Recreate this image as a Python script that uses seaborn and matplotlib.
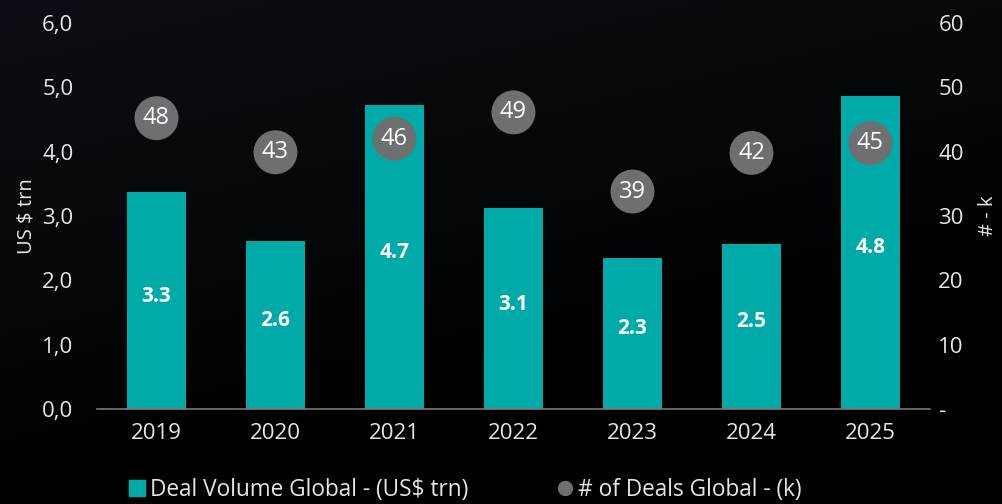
import numpy as np
import pandas as pd
import matplotlib.pyplot as plt
import seaborn as sns
from matplotlib.lines import Line2D

# values
years = ["2019", "2020", "2021", "2022", "2023", "2024", "2025"]
deal_volume = [3.37, 2.61, 4.72, 3.12, 2.35, 2.57, 4.87]          # bar heights, US$ trn
volume_labels = ["3.3", "2.6", "4.7", "3.1", "2.3", "2.5", "4.8"]
deal_count_pos = [45.2, 39.9, 42.0, 46.1, 33.8, 39.8, 41.3]        # circle positions on right axis
deal_count_labels = ["48", "43", "46", "49", "39", "42", "45"]

left_ticks = [0, 1, 2, 3, 4, 5, 6]
left_ticklabels = ["0,0", "1,0", "2,0", "3,0", "4,0", "5,0", "6,0"]
right_ticks = [0, 10, 20, 30, 40, 50, 60]
right_ticklabels = ["-", "10", "20", "30", "40", "50", "60"]

TEAL = "#00aaa9"
GREY = "#6d6f71"
TXT = "#e6e6e6"

sns.set_style("dark")
plt.rcParams["font.family"] = ["Open Sans", "DejaVu Sans"]

df = pd.DataFrame({"year": years, "volume": deal_volume})

fig = plt.figure(figsize=(10.02, 5.04), dpi=100)

# dark gradient background
bg = fig.add_axes([0, 0, 1, 1], zorder=-10)
yy, xx = np.mgrid[0:1:200j, 0:1:400j]
t = np.clip(0.75 * yy + 0.35 * (1 - xx) - 0.35, 0, 1)
tint = np.array([0.06, 0.08, 0.11])
img = t[..., None] * tint
bg.imshow(img, aspect="auto", extent=[0, 1, 0, 1], origin="lower")
bg.axis("off")

ax = fig.add_axes([0.0968, 0.1885, 0.8313, 0.766])
ax.set_facecolor("none")
sns.barplot(data=df, x="year", y="volume", color=TEAL, saturation=1,
            width=0.5, edgecolor=TEAL, linewidth=0, ax=ax, zorder=2)

for i, (v, lab) in enumerate(zip(deal_volume, volume_labels)):
    ax.text(i, v / 2 + 0.07, lab, ha="center", va="center", color="white",
            fontsize=15, fontweight="bold", zorder=5)

ax.set_ylim(0, 6)
ax.set_xlim(-0.5, len(years) - 0.5)
ax.set_yticks(left_ticks)
ax.set_yticklabels(left_ticklabels)
ax.set_xlabel("")
ax.set_ylabel("US $ trn", color=TXT, fontsize=14.5)
ax.yaxis.set_label_coords(-0.073, 0.5)
ax.grid(False)
for s in ["top", "right", "left"]:
    ax.spines[s].set_visible(False)
ax.spines["bottom"].set_color("#7a7a7a")
ax.spines["bottom"].set_linewidth(1.2)
ax.tick_params(axis="y", length=0, pad=17, labelsize=16, labelcolor=TXT)
ax.tick_params(axis="x", length=0, pad=10, labelsize=16, labelcolor=TXT)
# tick marks at category boundaries
ax.set_xticks(np.arange(-0.5, len(years), 1), minor=True)
ax.tick_params(axis="x", which="minor", direction="inout", length=14,
               color="#7a7a7a", width=1.2)

ax2 = ax.twinx()
ax2.set_facecolor("none")
sns.scatterplot(x=np.arange(len(years)), y=deal_count_pos, s=1000,
                color=GREY, edgecolor="none", ax=ax2, zorder=4, legend=False)
for i, (v, lab) in enumerate(zip(deal_count_pos, deal_count_labels)):
    ax2.text(i, v, lab, ha="center", va="center", color="white",
             fontsize=17, zorder=6)
ax2.set_ylim(0, 60)
ax2.set_yticks(right_ticks)
ax2.set_yticklabels(right_ticklabels)
ax2.set_ylabel("# - k", color=TXT, fontsize=14.5)
ax2.yaxis.set_label_coords(1.058, 0.5)
ax2.grid(False)
for s in ["top", "right", "left", "bottom"]:
    ax2.spines[s].set_visible(False)
ax2.tick_params(axis="y", length=0, pad=6, labelsize=16, labelcolor=TXT)

handles = [
    Line2D([], [], marker="s", linestyle="none", color=TEAL, markersize=12),
    Line2D([], [], marker="o", linestyle="none", color=GREY, markersize=10),
]
fig.legend(handles, ["Deal Volume Global - (US$ trn)", "# of Deals Global - (k)"],
           loc="center", bbox_to_anchor=(0.465, 0.027), ncol=2, frameon=False,
           fontsize=16.3, labelcolor=TXT, handlelength=0.6, handletextpad=0.25,
           columnspacing=4.0)

fig.savefig("out.png", dpi=100, facecolor="black")
